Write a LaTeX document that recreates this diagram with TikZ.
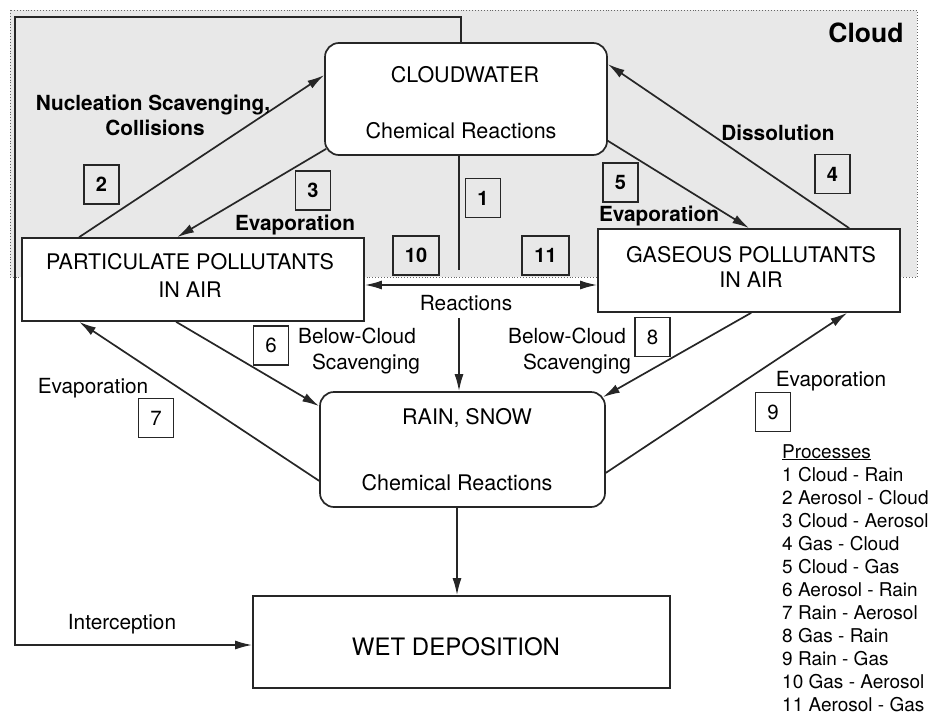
\documentclass[tikz,border=0pt]{standalone}
\usepackage{fontspec}
\setmainfont{TeX Gyre Heros}
\usetikzlibrary{arrows.meta,calc}
\begin{document}
\begin{tikzpicture}[x=1pt,y=-1pt,
  box/.style={draw=black!85, line width=1.7pt, fill=white, inner sep=0pt},
  rbox/.style={box, rounded corners=14pt},
  numbox/.style={draw=black!85, line width=1.5pt, inner sep=0pt, minimum width=35pt, minimum height=39pt},
  numb/.style={numbox, font=\bfseries\fontsize{20}{24}\selectfont},
  numr/.style={numbox, font=\fontsize{20.5}{24}\selectfont},
  bt/.style={inner sep=0pt, anchor=base, font=\fontsize{21.5}{25}\selectfont},
  lr/.style={inner sep=0pt, anchor=base, font=\fontsize{20.8}{24}\selectfont},
  lbd/.style={inner sep=0pt, anchor=base, font=\bfseries\fontsize{20.8}{24}\selectfont},
  pl/.style={inner sep=0pt, anchor=base west, font=\fontsize{19}{23}\selectfont},
  ln/.style={draw=black!85, line width=1.7pt},
  arr/.style={ln, -{Latex[length=17pt,width=9pt]}},
  darr/.style={ln, {Latex[length=17pt,width=9pt]}-{Latex[length=17pt,width=9pt]}}
]
\useasboundingbox (0,0) rectangle (947,717);
% cloud region
\fill[black!9] (10,10) rectangle (917,277);
\draw[black!60, dotted, line width=0.9pt] (10,10) rectangle (917,277);

% helper coordinates
\coordinate (itop) at (461,17);
\coordinate (ileft) at (15,17);
\coordinate (iy) at (0,645);
\coordinate (vx) at (459,0);
\coordinate (vx2) at (457,0);
\coordinate (v1end) at (459,270);
\coordinate (vstart) at (459,318);
\coordinate (hy) at (0,285);

% main boxes
\node[rbox, minimum width=282pt, minimum height=112pt] (cw) at (466,99) {};
\node[box, minimum width=342pt, minimum height=83pt] (part) at (193,279.5) {};
\node[box, minimum width=302pt, minimum height=83pt] (gas) at (749,270.5) {};
\node[rbox, minimum width=285pt, minimum height=115pt] (rain) at (462.5,449.5) {};
\node[box, minimum width=417pt, minimum height=92pt] (wet) at (461.5,642) {};

% box texts
\node[bt] (cwa) at (465,82) {CLOUDWATER};
\node[bt] (cwb) at (461,138) {Chemical Reactions};
\node[bt] (pa) at (190,269) {PARTICULATE POLLUTANTS};
\node[bt] (pb) at (190,297) {IN AIR};
\node[bt] (ga) at (751,262) {GASEOUS POLLUTANTS};
\node[bt] (gb) at (751,287) {IN AIR};
\node[bt] (ra) at (467,424) {RAIN, SNOW};
\node[bt] (rb) at (457,490) {Chemical Reactions};
\node[bt, font=\fontsize{24}{28}\selectfont] (wa) at (456,655) {WET DEPOSITION};
\node[inner sep=0pt, anchor=base, font=\bfseries\fontsize{26.5}{30}\selectfont] (cl) at (866,42) {Cloud};

% connectors
\draw[arr] (cw.north -| itop) -- (itop) -- (ileft) -- (ileft |- iy) -- (wet.west |- iy);
\draw[arr] ($(part.north west)+(58,0)$) -- ($(cw.north west)+(0,33)$);
\draw[arr] ($(cw.south west)+(2,-7)$) -- ($(part.north west)+(156,0)$);
\draw[ln] (cw.south -| vx) -- (v1end);
\draw[darr] (part.east |- hy) -- (gas.west |- hy);
\draw[arr] (vstart) -- (rain.north -| vx);
\draw[arr] ($(cw.south east)+(0,-15)$) -- ($(gas.north west)+(152,0)$);
\draw[arr] ($(gas.north west)+(252,0)$) -- ($(cw.north east)+(0,22)$);
\draw[arr] ($(part.south west)+(155,0)$) -- ($(rain.north west)+(0,15)$);
\draw[arr] ($(rain.south west)+(0,-27)$) -- ($(part.south west)+(58,0)$);
\draw[arr] ($(gas.south west)+(154,0)$) -- ($(rain.north east)+(-3,6)$);
\draw[arr] ($(rain.south east)+(0,-35)$) -- ($(gas.south west)+(250,0)$);
\draw[arr] (rain.south -| vx2) -- (wet.north -| vx2);

% labels
\node[lbd] (nuc) at (153,110) {Nucleation Scavenging,};
\node[lbd] (col) at (155,135) {Collisions};
\node[lbd] (ev3) at (295,230) {Evaporation};
\node[lbd] (ev5) at (659,221) {Evaporation};
\node[lbd] (dis) at (778,140) {Dissolution};
\node[lr] (rea) at (466,310) {Reactions};
\node[lr] (bc6a) at (357,343) {Below-Cloud};
\node[lr] (bc6b) at (366,369) {Scavenging};
\node[lr] (bc8a) at (567,343) {Below-Cloud};
\node[lr] (bc8b) at (577,369) {Scavenging};
\node[lr] (ev7) at (93,393) {Evaporation};
\node[lr] (ev9) at (831,386) {Evaporation};
\node[lr] (int) at (122,629) {Interception};

% number boxes
\node[numb] (n2) at (101.5,184.5) {2};
\node[numb] (n3) at (313,190.5) {3};
\node[numb] (n1) at (483,198) {1};
\node[numb] (n5) at (620.5,182.5) {5};
\node[numb] (n4) at (832.5,174) {4};
\node[numb, minimum width=46pt] (n10) at (416,255.5) {10};
\node[numb, minimum width=47pt] (n11) at (545.5,255.5) {11};
\node[numr] (n6) at (271,345.5) {6};
\node[numr] (n7) at (156,418) {7};
\node[numr] (n8) at (652.5,337) {8};
\node[numr] (n9) at (773,412) {9};

% processes list
\node[pl] (proc) at (782,458) {\underline{Processes}};
\foreach \t [count=\k from 0] in {1 Cloud - Rain, 2 Aerosol - Cloud, 3 Cloud - Aerosol, 4 Gas - Cloud, 5 Cloud - Gas, 6 Aerosol - Rain, 7 Rain - Aerosol, 8 Gas - Rain, 9 Rain - Gas, 10 Gas - Aerosol, 11 Aerosol - Gas}
  \node[pl] (p\k) at (782,481+23.07*\k) {\t};
\end{tikzpicture}
\end{document}
